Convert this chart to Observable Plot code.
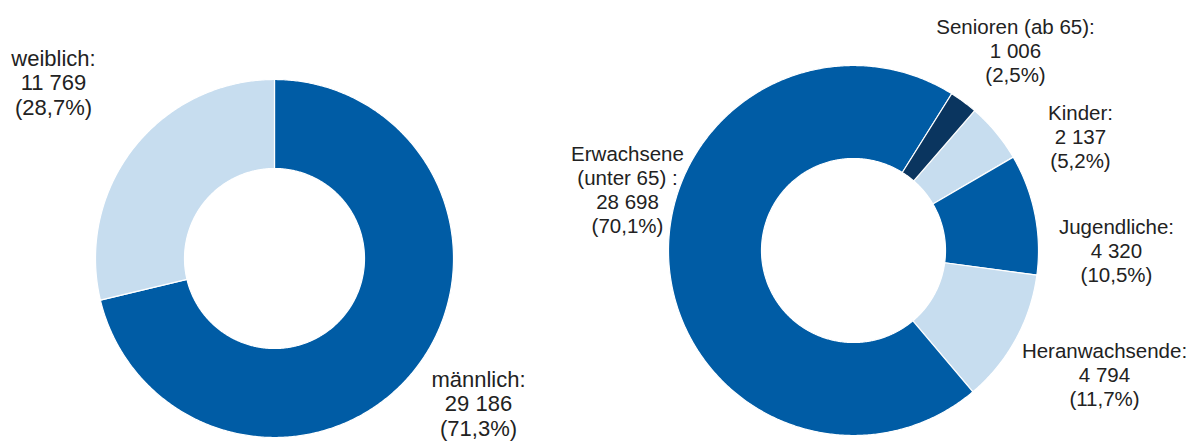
<!DOCTYPE html>
<html>
<head>
<meta charset="utf-8">
<script src="https://cdn.jsdelivr.net/npm/d3@7"></script>
<script src="https://cdn.jsdelivr.net/npm/@observablehq/plot@0.6"></script>
<style>
  html, body { margin: 0; padding: 0; background: #fff; }
  #chart svg { display: block; }
</style>
</head>
<body>
<div id="chart"></div>
<script>
// ---------- DATA ----------
const genderCategories = ["männlich", "weiblich"];
const genderValues = [29186, 11769];
const genderLabelNames = ["männlich:", "weiblich:"];

const ageCategories = ["Kinder", "Jugendliche", "Heranwachsende", "Erwachsene", "Senioren"];
const ageValues = [2137, 4320, 4794, 28698, 1006];
const ageLabelNames = ["Kinder:", "Jugendliche:", "Heranwachsende:", "Erwachsene\n(unter 65) :", "Senioren (ab 65):"];

// ---------- STYLES ----------
const BLUE = "#005ca5", LIGHT = "#c7ddef", NAVY = "#0a355f";
const genderColors = [BLUE, LIGHT];
const ageColors = [LIGHT, BLUE, LIGHT, BLUE, NAVY];
const TEXT = "#222";
const FONT = "'Liberation Sans', Arial, sans-serif";

// ---------- LAYOUT ----------
const W = 1192, H = 443;
const leftDonut = {id: "g", cx: 274, cy: 258, R: 179, r: 90, start: 0, fontSize: 22, lineHeight: 1.13,
  // label anchor: [dx of text centre, dy of first baseline] from the donut centre
  labelOffsets: [[204, 126], [-221, -195]]};
const rightDonut = {id: "a", cx: 853, cy: 250, R: 185, r: 92, start: 40.9, fontSize: 20.5, lineHeight: 1.17,
  labelOffsets: [[227, -133], [263, -19], [251, 105], [-226, -92], [162, -219]]};

// ---------- HELPERS ----------
const locale = d3.formatLocale({decimal: ",", thousands: "\u00a0", grouping: [3], currency: ["", " €"]});
const fmtInt = locale.format(",d");
const fmtPct = locale.format(".1f");

function slicePoints(cats, values, colors, d) {
  const total = d3.sum(values);
  let a = d.start;
  const pts = [];
  values.forEach((v, i) => {
    const a0 = a, a1 = a + v / total * 360;
    a = a1;
    const n = Math.max(2, Math.ceil((a1 - a0) / 0.5));
    const ring = [];
    for (let k = 0; k <= n; k++) ring.push([d.R, a0 + (a1 - a0) * k / n]);
    for (let k = n; k >= 0; k--) ring.push([d.r, a0 + (a1 - a0) * k / n]);
    for (const [rad, ang] of ring) {
      const t = ang * Math.PI / 180;
      pts.push({slice: d.id + ":" + cats[i], color: colors[i],
                x: d.cx + rad * Math.sin(t), y: d.cy - rad * Math.cos(t)});
    }
  });
  return pts;
}

function labelRows(names, values, d) {
  const total = d3.sum(values);
  return values.map((v, i) => ({
    text: names[i] + "\n" + fmtInt(v) + "\n(" + fmtPct(v / total * 100) + "%)",
    x: d.cx + d.labelOffsets[i][0],
    y: d.cy + d.labelOffsets[i][1] - 0.71 * d.fontSize
  }));
}

const slices = [
  ...slicePoints(genderCategories, genderValues, genderColors, leftDonut),
  ...slicePoints(ageCategories, ageValues, ageColors, rightDonut)
];
const leftLabels = labelRows(genderLabelNames, genderValues, leftDonut);
const rightLabels = labelRows(ageLabelNames, ageValues, rightDonut);

const chart = Plot.plot({
  width: W,
  height: H,
  margin: 0,
  x: {domain: [0, W], range: [0, W], axis: null},
  y: {domain: [0, H], range: [0, H], axis: null},
  color: {type: "identity"},
  style: {fontFamily: FONT, background: "#fff", overflow: "visible"},
  marks: [
    Plot.line(slices, {x: "x", y: "y", z: "slice", fill: "color", stroke: "#ffffff",
                       strokeWidth: 1.2, curve: "linear-closed"}),
    Plot.text(leftLabels, {x: "x", y: "y", text: "text", fontSize: leftDonut.fontSize,
                           lineHeight: leftDonut.lineHeight, lineAnchor: "top", textAnchor: "middle",
                           fill: TEXT, fontFamily: FONT}),
    Plot.text(rightLabels, {x: "x", y: "y", text: "text", fontSize: rightDonut.fontSize,
                            lineHeight: rightDonut.lineHeight, lineAnchor: "top", textAnchor: "middle",
                            fill: TEXT, fontFamily: FONT})
  ]
});
document.getElementById("chart").append(chart);
</script>
</body>
</html>
